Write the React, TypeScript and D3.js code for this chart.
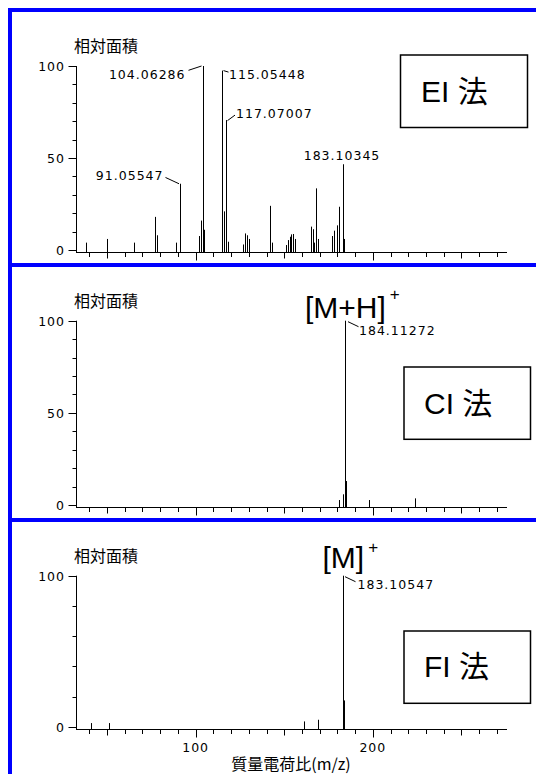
import React from 'react';
import * as d3 from 'd3';

// ---------- data ----------
const xDomain: [number, number] = [32.5, 275.7];
const xTickValues = d3.range(40, 271, 10);
const xTickLabelValues = [100, 200];
const yAxisTitle = '相対面積';
const xAxisTitle = '質量電荷比(m/z)';

// [m/z, relative area]
const eiPeaks: [number, number][] = [
  [38, 4], [50, 6], [65, 4], [77, 18], [78, 8], [89, 4], [91.05547, 36],
  [102, 7.6], [103, 16], [104.06286, 100], [105, 11],
  [115.05448, 97.5], [116, 21], [117.07007, 70.6], [118, 4.5],
  [127, 3], [128, 9], [129, 8], [130, 6], [142, 24], [143, 4],
  [151, 2.7], [152, 5.4], [153, 7.2], [154, 8.5], [155, 8.7], [156, 6],
  [165, 12.7], [166, 11.3], [167, 4], [168, 33.5], [169, 6],
  [177, 7.6], [178, 10.5], [180, 13.4], [181, 23.5], [183.10345, 46.6], [184, 6],
];
const ciPeaks: [number, number][] = [
  [181, 2.7], [183, 5.8], [184.11272, 100], [185, 13], [198, 2.7], [224, 3.6],
];
const fiPeaks: [number, number][] = [
  [41, 2.4], [51, 2.4], [161, 3.5], [169, 4.6], [183.10547, 100], [184, 17.4],
];

const eiLabeled = [104.06286, 115.05448, 117.07007, 91.05547, 183.10345];
const ciLabeled = [184.11272];
const fiLabeled = [183.10547];

const yTicks10 = d3.range(0, 101, 10);
const yMajor10 = [0, 50, 100];
const yTicks20 = d3.range(0, 101, 20);
const yMajor20 = [0, 100];

const methodNames = ['EI 法', 'CI 法', 'FI 法'];
const ionNames = ['', '[M+H]', '[M]'];
const ionCharge = '+';

// ---------- layout ----------
type LabelLayout = { leader: [number, number][] | null; anchor: 'start' | 'end' | 'middle'; dx: number; dy: number };

const NUM_FONT = '"DejaVu Sans", sans-serif';
const JP_FONT = '"Noto Sans CJK JP", sans-serif';
const BIG_FONT = '"Liberation Sans", "Noto Sans CJK JP", sans-serif';

const panels = [
  {
    peaks: eiPeaks, labeled: eiLabeled, ticks: yTicks10, major: yMajor10,
    y0: 250, y100: 66, axisY: 252, yTitleY: 52.3,
    box: [400.5, 55, 127, 72.5], boxTextX: 421, boxTextY: 101.7,
    labelLayouts: [
      { leader: [[-2, 0], [-15, 4.3]], anchor: 'end', dx: -18, dy: 12.7 },
      { leader: [[1, 0], [6, 1.5]], anchor: 'start', dx: 6.5, dy: 8 },
      { leader: [[1, 0.5], [8.5, -5]], anchor: 'start', dx: 9.5, dy: -2.3 },
      { leader: [[-1.5, 0], [-15, -6.3]], anchor: 'end', dx: -17, dy: -3.5 },
      { leader: null, anchor: 'middle', dx: -1.5, dy: -3.8 },
    ] as LabelLayout[],
    ion: null as null | { dx: number; dy: number; supDx: number; supDy: number },
    xLabels: false,
  },
  {
    peaks: ciPeaks, labeled: ciLabeled, ticks: yTicks10, major: yMajor10,
    y0: 505, y100: 320.7, axisY: 507, yTitleY: 307.3,
    box: [404, 367, 126.5, 72.3], boxTextX: 424, boxTextY: 414.3,
    labelLayouts: [
      { leader: [[2.5, 1], [13, 6]], anchor: 'start', dx: 13.5, dy: 14 },
    ] as LabelLayout[],
    ion: { dx: -40.6, dy: -3, supDx: 4, supDy: -18 },
    xLabels: false,
  },
  {
    peaks: fiPeaks, labeled: fiLabeled, ticks: yTicks20, major: yMajor20,
    y0: 726.7, y100: 575.7, axisY: 728.5, yTitleY: 562,
    box: [404, 631, 126.5, 72.3], boxTextX: 424, boxTextY: 676.7,
    labelLayouts: [
      { leader: [[1.5, 1], [12, 6]], anchor: 'start', dx: 14, dy: 13 },
    ] as LabelLayout[],
    ion: { dx: -21, dy: -7.4, supDx: 4, supDy: -15 },
    xLabels: true,
  },
];

const X0 = 76;
const X1 = 507;

function Panel({ p, idx }: { p: typeof panels[number]; idx: number }) {
  const x = d3.scaleLinear().domain(xDomain).range([X0, X1]);
  const y = d3.scaleLinear().domain([0, 100]).range([p.y0, p.y100]);
  const ax = X0 + 0.5;
  const ay = Math.round(p.axisY) + 0.5;
  const px = (m: number) => Math.round(x(m)) + 0.5;

  return (
    <g>
      {/* y title */}
      <text x={74} y={p.yTitleY} fontFamily={JP_FONT} fontSize={16} fill="#000">{yAxisTitle}</text>
      {/* y axis */}
      <line x1={ax} x2={ax} y1={y(100)} y2={ay} stroke="#000" strokeWidth={1} />
      {p.ticks.map((t) => {
        const isMajor = p.major.includes(t);
        const ty = Math.round(y(t)) + 0.5;
        return (
          <g key={'yt' + t}>
            <line x1={ax - (isMajor ? 8 : 4)} x2={ax} y1={ty} y2={ty} stroke="#000" strokeWidth={1} />
            {isMajor && (
              <text x={65} y={ty + 4.5} textAnchor="end" fontFamily={NUM_FONT} fontSize={12.5} letterSpacing={1} fill="#000">{t}</text>
            )}
          </g>
        );
      })}
      {/* x axis */}
      <line x1={X0} x2={X1} y1={ay} y2={ay} stroke="#000" strokeWidth={1} />
      {xTickValues.map((t) => {
        const len = t % 100 === 0 ? 8 : t % 50 === 0 ? 6 : 4.5;
        const tx = px(t);
        return <line key={'xt' + t} x1={tx} x2={tx} y1={ay} y2={ay + len} stroke="#000" strokeWidth={1} />;
      })}
      {p.xLabels && xTickLabelValues.map((t) => (
        <text key={'xl' + t} x={x(t)} y={751.5} textAnchor="middle" fontFamily={NUM_FONT} fontSize={12.5} letterSpacing={1} fill="#000">{t}</text>
      ))}
      {p.xLabels && (
        <text x={291} y={770} textAnchor="middle" fontFamily={JP_FONT} fontSize={16} fill="#000">{xAxisTitle}</text>
      )}
      {/* peaks */}
      {p.peaks.map(([m, v], i) => (
        <line key={'pk' + i} x1={px(m)} x2={px(m)} y1={ay} y2={y(v)} stroke="#000" strokeWidth={1} />
      ))}
      {/* peak labels */}
      {p.labeled.map((m, i) => {
        const pk = p.peaks.find((d) => d[0] === m)!;
        const X = px(m);
        const Y = y(pk[1]);
        const L = p.labelLayouts[i];
        return (
          <g key={'lb' + i}>
            {L.leader && (
              <polyline points={L.leader.map(([dx, dy]) => `${X + dx},${Y + dy}`).join(' ')} fill="none" stroke="#000" strokeWidth={1} />
            )}
            <text x={X + L.dx} y={Y + L.dy} textAnchor={L.anchor} fontFamily={NUM_FONT} fontSize={12.5} letterSpacing={1} fill="#000">
              {m.toFixed(5)}
            </text>
          </g>
        );
      })}
      {/* ion label */}
      {p.ion && (() => {
        const m = p.labeled[0];
        const pk = p.peaks.find((d) => d[0] === m)!;
        const X = px(m);
        const Y = y(pk[1]);
        return (
          <text x={X + p.ion.dx} y={Y + p.ion.dy} fontFamily={BIG_FONT} fontSize={30} fill="#000">
            {ionNames[idx]}
            <tspan dx={p.ion.supDx} dy={p.ion.supDy} fontSize={17}>{ionCharge}</tspan>
          </text>
        );
      })()}
      {/* method box */}
      <rect x={p.box[0]} y={p.box[1]} width={p.box[2]} height={p.box[3]} fill="#fff" stroke="#000" strokeWidth={1.5} />
      <text x={p.boxTextX} y={p.boxTextY} fontFamily={BIG_FONT} fontSize={30} fill="#000">{methodNames[idx]}</text>
    </g>
  );
}

export default function App() {
  return (
    <svg width={536} height={774} style={{ position: 'absolute', left: 0, top: 0, background: '#fff' }}>
      <rect x={0} y={0} width={536} height={774} fill="#fff" />
      {/* blue frame */}
      <rect x={8} y={8} width={4} height={766} fill="#0000ff" />
      <rect x={8} y={8} width={528} height={4} fill="#0000ff" />
      <rect x={8} y={263} width={528} height={4} fill="#0000ff" />
      <rect x={8} y={518} width={528} height={4} fill="#0000ff" />
      {panels.map((p, i) => <Panel key={i} p={p} idx={i} />)}
    </svg>
  );
}
